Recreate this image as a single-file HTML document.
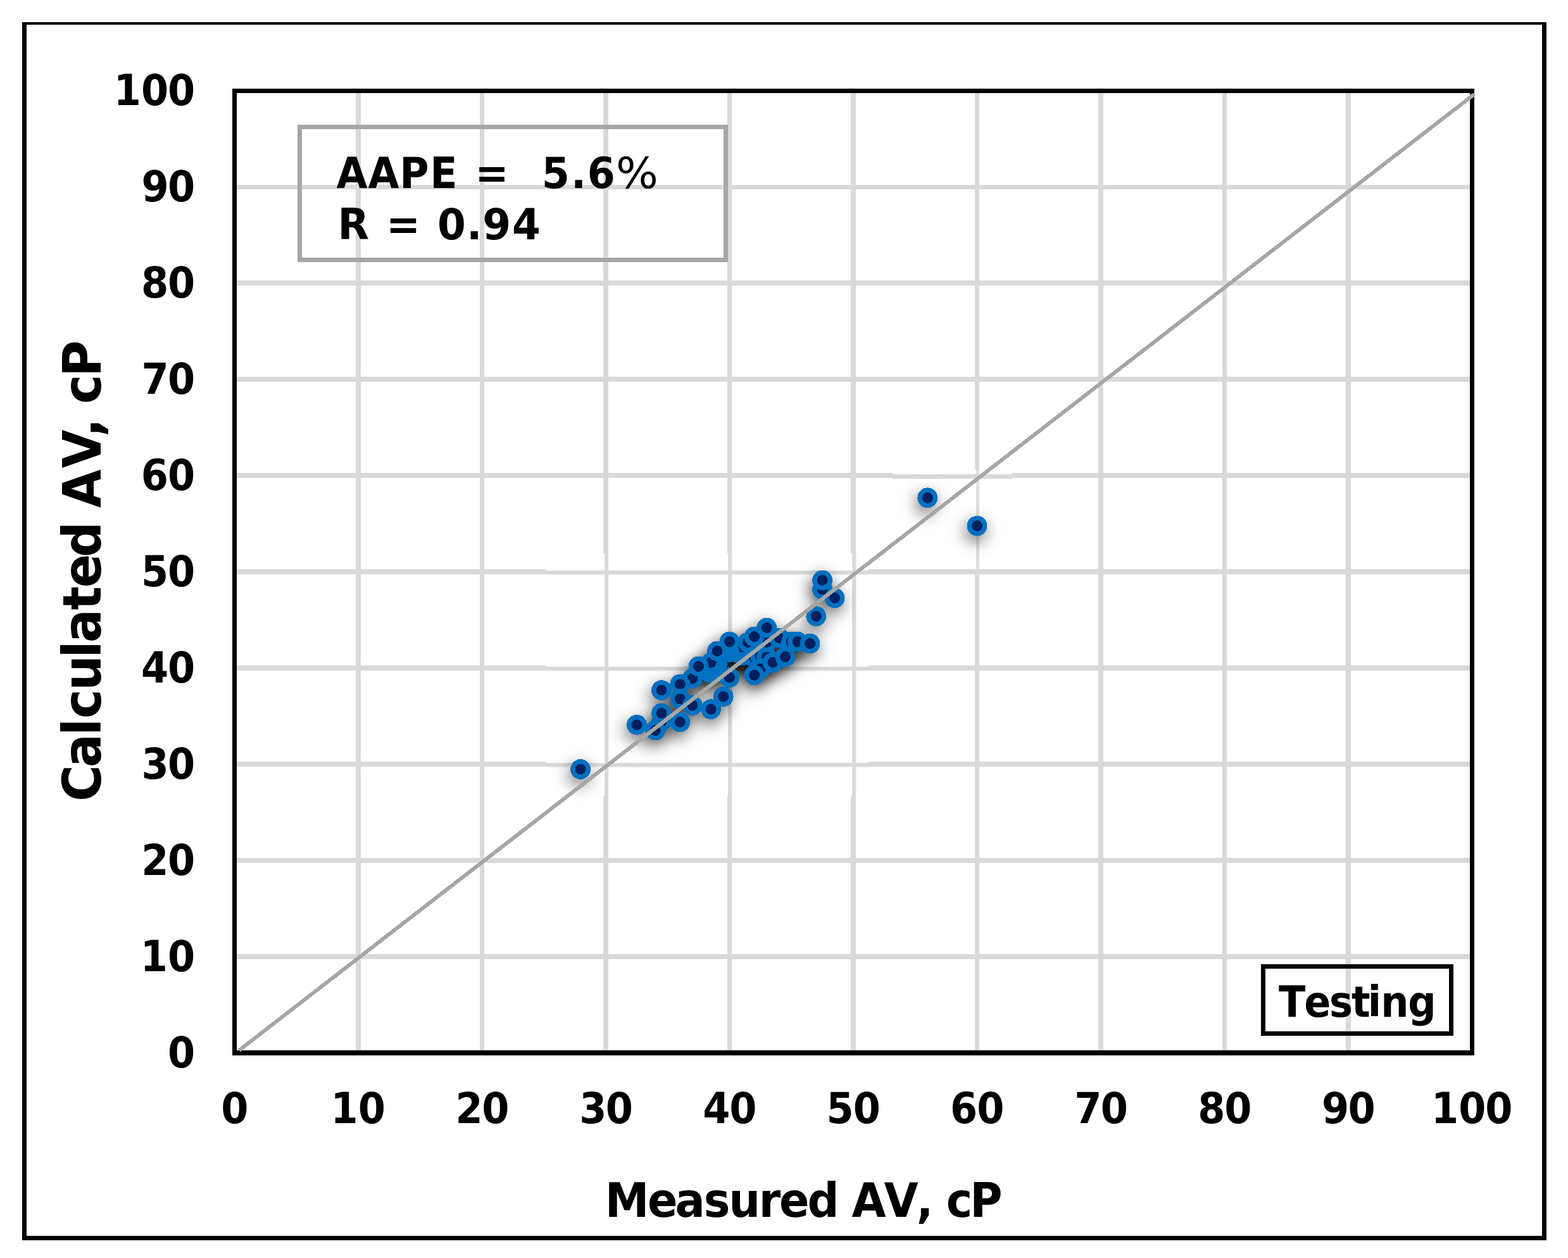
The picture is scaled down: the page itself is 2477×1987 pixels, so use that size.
<!DOCTYPE html>
<html lang="en"><head><meta charset="utf-8"><title>Calculated AV vs Measured AV - Testing</title>
<style>html,body{margin:0;padding:0;background:#fff;}body{width:2477px;height:1987px;overflow:hidden;}svg{display:block;}text{font-family:'DejaVu Sans Condensed','DejaVu Sans','Liberation Sans',sans-serif;font-weight:bold;fill:#000;white-space:pre;}</style>
</head><body>
<svg width="2477" height="1987" viewBox="0 0 2477 1987">
<defs><radialGradient id="sg" cx="0.5" cy="0.5" r="0.5"><stop offset="0.000" stop-color="#000" stop-opacity="0.351"/><stop offset="0.071" stop-color="#000" stop-opacity="0.339"/><stop offset="0.143" stop-color="#000" stop-opacity="0.308"/><stop offset="0.214" stop-color="#000" stop-opacity="0.260"/><stop offset="0.286" stop-color="#000" stop-opacity="0.205"/><stop offset="0.357" stop-color="#000" stop-opacity="0.151"/><stop offset="0.429" stop-color="#000" stop-opacity="0.102"/><stop offset="0.500" stop-color="#000" stop-opacity="0.064"/><stop offset="0.571" stop-color="#000" stop-opacity="0.037"/><stop offset="0.643" stop-color="#000" stop-opacity="0.019"/><stop offset="0.714" stop-color="#000" stop-opacity="0.009"/><stop offset="0.786" stop-color="#000" stop-opacity="0.004"/><stop offset="0.857" stop-color="#000" stop-opacity="0.002"/><stop offset="0.929" stop-color="#000" stop-opacity="0.001"/><stop offset="1.000" stop-color="#000" stop-opacity="0.000"/></radialGradient></defs>
<rect x="0" y="0" width="2477" height="1987" fill="#fff"/>
<g fill="#000">
<rect x="35" y="35" width="2408" height="4"/>
<rect x="35" y="1952" width="2408" height="7"/>
<rect x="35" y="35" width="7" height="1924"/>
<rect x="2436" y="35" width="7" height="1924"/>
</g>
<g fill="#d9d9d9">
<rect x="562" y="147" width="8" height="1513"/>
<rect x="758" y="147" width="7" height="1513"/>
<rect x="953" y="147" width="8" height="1513"/>
<rect x="1149" y="147" width="7" height="1513"/>
<rect x="1344" y="147" width="8" height="1513"/>
<rect x="1540" y="147" width="7" height="1513"/>
<rect x="1735" y="147" width="8" height="1513"/>
<rect x="1931" y="147" width="7" height="1513"/>
<rect x="2126" y="147" width="8" height="1513"/>
<rect x="374" y="1507" width="1948" height="8"/>
<rect x="374" y="1355" width="1948" height="8"/>
<rect x="374" y="1203" width="1948" height="8"/>
<rect x="374" y="1051" width="1948" height="8"/>
<rect x="374" y="899" width="1948" height="8"/>
<rect x="374" y="747" width="1948" height="8"/>
<rect x="374" y="595" width="1948" height="8"/>
<rect x="374" y="443" width="1948" height="8"/>
<rect x="374" y="292" width="1948" height="7"/>
</g>
<g>
<rect x="953" y="874" width="2.3" height="384" fill="#fff"/>
<rect x="961" y="874" width="2" height="384" fill="#f9f9f9"/>
<rect x="862" y="1203" width="510" height="2.3" fill="#fff"/>
<rect x="862" y="1211" width="510" height="2" fill="#f6f6f6"/>
<rect x="1149" y="874" width="1.3" height="384" fill="#fff"/>
<rect x="1156" y="874" width="2" height="384" fill="#f9f9f9"/>
<rect x="862" y="1051" width="510" height="2.3" fill="#fff"/>
<rect x="862" y="1059" width="510" height="2" fill="#f6f6f6"/>
<rect x="1344" y="874" width="2.3" height="384" fill="#fff"/>
<rect x="1352" y="874" width="2" height="384" fill="#f9f9f9"/>
<rect x="862" y="899" width="510" height="2.3" fill="#fff"/>
<rect x="862" y="907" width="510" height="2" fill="#f6f6f6"/>
<rect x="955.3" y="874" width="5.7" height="384" fill="#d9d9d9"/>
<rect x="862" y="1205.3" width="510" height="5.7" fill="#d9d9d9"/>
<rect x="1150.3" y="874" width="5.7" height="384" fill="#d9d9d9"/>
<rect x="862" y="1053.3" width="510" height="5.7" fill="#d9d9d9"/>
<rect x="1346.3" y="874" width="5.7" height="384" fill="#d9d9d9"/>
<rect x="862" y="901.3" width="510" height="5.7" fill="#d9d9d9"/>
</g>
<g>
<rect x="1540" y="742" width="7" height="157" fill="#fff"/>
<rect x="1410" y="747" width="189" height="8" fill="#fff"/>
<rect x="1542" y="742" width="5" height="157" fill="#dedede"/>
<rect x="1410" y="749" width="189" height="7" fill="#d9d9d9"/>
</g>
<g fill="#000">
<rect x="367" y="140" width="1962" height="7"/>
<rect x="367" y="1659" width="1962" height="8"/>
<rect x="367" y="140" width="7" height="1527"/>
<rect x="2322" y="140" width="7" height="1527"/>
</g>
<g fill="url(#sg)">
<circle cx="914.6" cy="1224" r="54.3"/>
<circle cx="1462.8" cy="795.3" r="54.3"/>
<circle cx="1541" cy="839.6" r="54.3"/>
<circle cx="1003.4" cy="1153.8" r="54.3"/>
<circle cx="1042.5" cy="1148.5" r="54.3"/>
<circle cx="1032.7" cy="1162.6" r="54.3"/>
<circle cx="1042.5" cy="1135.5" r="54.3"/>
<circle cx="1071.8" cy="1149.5" r="54.3"/>
<circle cx="1042.5" cy="1099.1" r="54.3"/>
<circle cx="1091.3" cy="1080.5" r="54.3"/>
<circle cx="1071.8" cy="1089.8" r="54.3"/>
<circle cx="1071.8" cy="1113" r="54.3"/>
<circle cx="1091.3" cy="1123.2" r="54.3"/>
<circle cx="1120.7" cy="1129.2" r="54.3"/>
<circle cx="1140.2" cy="1109.3" r="54.3"/>
<circle cx="1119.7" cy="1072.2" r="54.3"/>
<circle cx="1159.8" cy="1039" r="54.3"/>
<circle cx="1169.6" cy="1044.5" r="54.3"/>
<circle cx="1179.3" cy="1039" r="54.3"/>
<circle cx="1169.6" cy="1031" r="54.3"/>
<circle cx="1150" cy="1039" r="54.3"/>
<circle cx="1130.5" cy="1058" r="54.3"/>
<circle cx="1120.7" cy="1062.5" r="54.3"/>
<circle cx="1120.7" cy="1055.4" r="54.3"/>
<circle cx="1101.1" cy="1061.5" r="54.3"/>
<circle cx="1179.3" cy="1023.5" r="54.3"/>
<circle cx="1130.5" cy="1037.4" r="54.3"/>
<circle cx="1150" cy="1022.4" r="54.3"/>
<circle cx="1150" cy="1079.1" r="54.3"/>
<circle cx="1189.1" cy="1047.5" r="54.3"/>
<circle cx="1198.9" cy="1045.4" r="54.3"/>
<circle cx="1208.7" cy="1046.6" r="54.3"/>
<circle cx="1198.9" cy="1065.1" r="54.3"/>
<circle cx="1189.1" cy="1075.4" r="54.3"/>
<circle cx="1218.4" cy="1055.3" r="54.3"/>
<circle cx="1238" cy="1046.4" r="54.3"/>
<circle cx="1208.7" cy="1023.3" r="54.3"/>
<circle cx="1189.1" cy="1014.5" r="54.3"/>
<circle cx="1208.7" cy="1000.5" r="54.3"/>
<circle cx="1228.2" cy="1016.4" r="54.3"/>
<circle cx="1247.7" cy="1022.4" r="54.3"/>
<circle cx="1257.5" cy="1022.5" r="54.3"/>
<circle cx="1277.1" cy="1025.5" r="54.3"/>
<circle cx="1286.8" cy="982.3" r="54.3"/>
<circle cx="1296.6" cy="940.1" r="54.3"/>
<circle cx="1296.6" cy="925.4" r="54.3"/>
<circle cx="1316.2" cy="953.4" r="54.3"/>
<circle cx="1110.9" cy="1071" r="54.3"/>
<circle cx="1140.2" cy="1054" r="54.3"/>
<circle cx="1159.8" cy="1049" r="54.3"/>
<circle cx="1179.3" cy="1049" r="54.3"/>
<circle cx="1198.9" cy="1054" r="54.3"/>
<circle cx="1208.7" cy="1039" r="54.3"/>
<circle cx="1228.2" cy="1039" r="54.3"/>
<circle cx="1081.6" cy="1104" r="54.3"/>
<circle cx="1062" cy="1129" r="54.3"/>
<circle cx="1247.7" cy="1029" r="54.3"/>
</g>
<g shape-rendering="crispEdges">
<circle cx="917.1" cy="1215" r="15.9" fill="#0070c0"/>
<circle cx="917.1" cy="1215" r="8.5" fill="#002060"/>
<circle cx="1465.3" cy="786.3" r="15.9" fill="#0070c0"/>
<circle cx="1465.3" cy="786.3" r="8.5" fill="#002060"/>
<circle cx="1543.5" cy="830.6" r="15.9" fill="#0070c0"/>
<circle cx="1543.5" cy="830.6" r="8.5" fill="#002060"/>
<circle cx="1005.9" cy="1144.8" r="15.9" fill="#0070c0"/>
<circle cx="1005.9" cy="1144.8" r="8.5" fill="#002060"/>
<circle cx="1045" cy="1139.5" r="15.9" fill="#0070c0"/>
<circle cx="1045" cy="1139.5" r="8.5" fill="#002060"/>
<circle cx="1035.2" cy="1153.6" r="15.9" fill="#0070c0"/>
<circle cx="1035.2" cy="1153.6" r="8.5" fill="#002060"/>
<circle cx="1045" cy="1126.5" r="15.9" fill="#0070c0"/>
<circle cx="1045" cy="1126.5" r="8.5" fill="#002060"/>
<circle cx="1074.3" cy="1140.5" r="15.9" fill="#0070c0"/>
<circle cx="1074.3" cy="1140.5" r="8.5" fill="#002060"/>
<circle cx="1045" cy="1090.1" r="15.9" fill="#0070c0"/>
<circle cx="1045" cy="1090.1" r="8.5" fill="#002060"/>
<circle cx="1093.8" cy="1071.5" r="15.9" fill="#0070c0"/>
<circle cx="1093.8" cy="1071.5" r="8.5" fill="#002060"/>
<circle cx="1074.3" cy="1080.8" r="15.9" fill="#0070c0"/>
<circle cx="1074.3" cy="1080.8" r="8.5" fill="#002060"/>
<circle cx="1074.3" cy="1104" r="15.9" fill="#0070c0"/>
<circle cx="1074.3" cy="1104" r="8.5" fill="#002060"/>
<circle cx="1093.8" cy="1114.2" r="15.9" fill="#0070c0"/>
<circle cx="1093.8" cy="1114.2" r="8.5" fill="#002060"/>
<circle cx="1123.2" cy="1120.2" r="15.9" fill="#0070c0"/>
<circle cx="1123.2" cy="1120.2" r="8.5" fill="#002060"/>
<circle cx="1142.7" cy="1100.3" r="15.9" fill="#0070c0"/>
<circle cx="1142.7" cy="1100.3" r="8.5" fill="#002060"/>
<circle cx="1122.2" cy="1063.2" r="15.9" fill="#0070c0"/>
<circle cx="1162.3" cy="1030" r="15.9" fill="#0070c0"/>
<circle cx="1172.1" cy="1035.5" r="15.9" fill="#0070c0"/>
<circle cx="1181.8" cy="1030" r="15.9" fill="#0070c0"/>
<circle cx="1172.1" cy="1022" r="15.9" fill="#0070c0"/>
<circle cx="1172.1" cy="1022" r="8.5" fill="#002060"/>
<circle cx="1152.5" cy="1030" r="15.9" fill="#0070c0"/>
<circle cx="1133" cy="1049" r="15.9" fill="#0070c0"/>
<circle cx="1123.2" cy="1053.5" r="15.9" fill="#0070c0"/>
<circle cx="1123.2" cy="1046.4" r="15.9" fill="#0070c0"/>
<circle cx="1123.2" cy="1046.4" r="8.5" fill="#002060"/>
<circle cx="1103.6" cy="1052.5" r="15.9" fill="#0070c0"/>
<circle cx="1103.6" cy="1052.5" r="8.5" fill="#002060"/>
<circle cx="1181.8" cy="1014.5" r="15.9" fill="#0070c0"/>
<circle cx="1181.8" cy="1014.5" r="8.5" fill="#002060"/>
<circle cx="1133" cy="1028.4" r="15.9" fill="#0070c0"/>
<circle cx="1133" cy="1028.4" r="8.5" fill="#002060"/>
<circle cx="1152.5" cy="1013.4" r="15.9" fill="#0070c0"/>
<circle cx="1152.5" cy="1013.4" r="8.5" fill="#002060"/>
<circle cx="1152.5" cy="1070.1" r="15.9" fill="#0070c0"/>
<circle cx="1152.5" cy="1070.1" r="8.5" fill="#002060"/>
<circle cx="1191.6" cy="1038.5" r="15.9" fill="#0070c0"/>
<circle cx="1191.6" cy="1038.5" r="8.5" fill="#002060"/>
<circle cx="1201.4" cy="1036.4" r="15.9" fill="#0070c0"/>
<circle cx="1201.4" cy="1036.4" r="8.5" fill="#002060"/>
<circle cx="1211.2" cy="1037.6" r="15.9" fill="#0070c0"/>
<circle cx="1211.2" cy="1037.6" r="8.5" fill="#002060"/>
<circle cx="1201.4" cy="1056.1" r="15.9" fill="#0070c0"/>
<circle cx="1201.4" cy="1056.1" r="8.5" fill="#002060"/>
<circle cx="1191.6" cy="1066.4" r="15.9" fill="#0070c0"/>
<circle cx="1191.6" cy="1066.4" r="8.5" fill="#002060"/>
<circle cx="1220.9" cy="1046.3" r="15.9" fill="#0070c0"/>
<circle cx="1220.9" cy="1046.3" r="8.5" fill="#002060"/>
<circle cx="1240.5" cy="1037.4" r="15.9" fill="#0070c0"/>
<circle cx="1240.5" cy="1037.4" r="8.5" fill="#002060"/>
<circle cx="1211.2" cy="1014.3" r="15.9" fill="#0070c0"/>
<circle cx="1211.2" cy="1014.3" r="8.5" fill="#002060"/>
<circle cx="1191.6" cy="1005.5" r="15.9" fill="#0070c0"/>
<circle cx="1191.6" cy="1005.5" r="8.5" fill="#002060"/>
<circle cx="1211.2" cy="991.5" r="15.9" fill="#0070c0"/>
<circle cx="1211.2" cy="991.5" r="8.5" fill="#002060"/>
<circle cx="1230.7" cy="1007.4" r="15.9" fill="#0070c0"/>
<circle cx="1230.7" cy="1007.4" r="8.5" fill="#002060"/>
<circle cx="1250.2" cy="1013.4" r="15.9" fill="#0070c0"/>
<circle cx="1250.2" cy="1013.4" r="8.5" fill="#002060"/>
<circle cx="1260" cy="1013.5" r="15.9" fill="#0070c0"/>
<circle cx="1260" cy="1013.5" r="8.5" fill="#002060"/>
<circle cx="1279.6" cy="1016.5" r="15.9" fill="#0070c0"/>
<circle cx="1279.6" cy="1016.5" r="8.5" fill="#002060"/>
<circle cx="1289.3" cy="973.3" r="15.9" fill="#0070c0"/>
<circle cx="1289.3" cy="973.3" r="8.5" fill="#002060"/>
<circle cx="1299.1" cy="931.1" r="15.9" fill="#0070c0"/>
<circle cx="1299.1" cy="931.1" r="8.5" fill="#002060"/>
<circle cx="1299.1" cy="916.4" r="15.9" fill="#0070c0"/>
<circle cx="1299.1" cy="916.4" r="8.5" fill="#002060"/>
<circle cx="1318.7" cy="944.4" r="15.9" fill="#0070c0"/>
<circle cx="1318.7" cy="944.4" r="8.5" fill="#002060"/>
</g>
<line x1="377.8" y1="1658.9" x2="2329" y2="148.8" stroke="#a6a6a6" stroke-width="6" shape-rendering="crispEdges"/>
<rect x="473.5" y="200.5" width="673" height="210" fill="none" stroke="#a6a6a6" stroke-width="7"/>
<text transform="scale(1.05,1)" x="506.1 553.7 601.1 647 688.2 714.8 765.4 786.3 814.9 859 883.5 926.7" y="296.8" font-size="67">AAPE =  5.6<tspan style="font-family:'DejaVu Sans',sans-serif;font-weight:normal">%</tspan></text>
<text transform="scale(1.07,1)" x="498.5 544.9 570.1 620.6 645.8 688.7 712.3 756.1" y="378.1" font-size="67">R = 0.94</text>
<rect x="1995.5" y="1526.5" width="297" height="106" fill="none" stroke="#000" stroke-width="7"/>
<text transform="scale(1.03,1)" x="1961.1 2000.3 2038.8 2072.8 2097.9 2117.8 2159.4" y="1606.2" font-size="67">Testing</text>
<text transform="scale(1.03,1)" x="257.3" y="1685.9" font-size="67">0</text>
<text transform="scale(1.03,1)" x="215.3 257.3" y="1534" font-size="67">10</text>
<text transform="scale(1.03,1)" x="216.8 257.3" y="1382" font-size="67">20</text>
<text transform="scale(1.03,1)" x="217 257.3" y="1230.1" font-size="67">30</text>
<text transform="scale(1.03,1)" x="216.6 257.3" y="1078.1" font-size="67">40</text>
<text transform="scale(1.03,1)" x="216.4 257.3" y="926.1" font-size="67">50</text>
<text transform="scale(1.03,1)" x="216.3 257.3" y="774.2" font-size="67">60</text>
<text transform="scale(1.03,1)" x="217 257.3" y="622.2" font-size="67">70</text>
<text transform="scale(1.03,1)" x="216.6 257.3" y="470.3" font-size="67">80</text>
<text transform="scale(1.03,1)" x="217 257.3" y="318.4" font-size="67">90</text>
<text transform="scale(1.03,1)" x="174.6 216.6 257.3" y="166.4" font-size="67">100</text>
<text transform="scale(1.03,1)" x="339" y="1774" font-size="67">0</text>
<text transform="scale(1.03,1)" x="507.2 549.2" y="1774" font-size="67">10</text>
<text transform="scale(1.03,1)" x="698.5 739" y="1774" font-size="67">20</text>
<text transform="scale(1.03,1)" x="888.5 928.8" y="1774" font-size="67">30</text>
<text transform="scale(1.03,1)" x="1077.9 1118.6" y="1774" font-size="67">40</text>
<text transform="scale(1.03,1)" x="1267.5 1308.4" y="1774" font-size="67">50</text>
<text transform="scale(1.03,1)" x="1457.3 1498.2" y="1774" font-size="67">60</text>
<text transform="scale(1.03,1)" x="1647.7 1688" y="1774" font-size="67">70</text>
<text transform="scale(1.03,1)" x="1837.2 1877.8" y="1774" font-size="67">80</text>
<text transform="scale(1.03,1)" x="2027.3 2067.6" y="1774" font-size="67">90</text>
<text transform="scale(1.03,1)" x="2195.1 2237.1 2277.8" y="1774" font-size="67">100</text>
<text transform="scale(1.03,1)" x="927.8 993.1 1035.4 1079.4 1117.8 1163.9 1195.2 1238.3 1286.9 1306.3 1355.9 1405.7 1431.6 1451.3 1487.6" y="1922" font-size="75.5">Measured AV, cP</text>
<text transform="rotate(-90) scale(1.04,1)" x="-1217.4 -1165.4 -1117.2 -1091.4 -1048.7 -999.2 -975.9 -926.4 -892.5 -846.3 -792.2 -771.4 -711 -663.7 -635 -613.5 -572.4" y="159.2" font-size="84">Calculated AV, cP</text>
</svg>
</body></html>
